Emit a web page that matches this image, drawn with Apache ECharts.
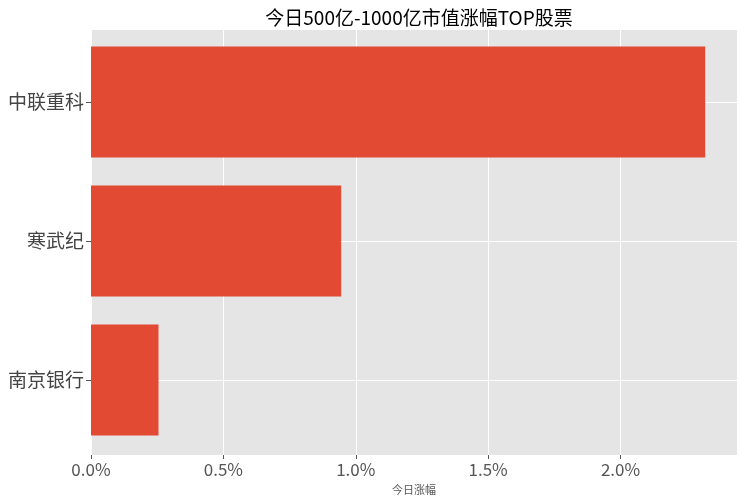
<!DOCTYPE html>
<html>
<head>
<meta charset="utf-8">
<script src="https://cdn.jsdelivr.net/npm/echarts@6/dist/echarts.min.js"></script>
<style>
html,body{margin:0;padding:0;background:#fff;}
#chart{width:744px;height:500px;}
</style>
</head>
<body>
<div id="chart"></div>
<script>
// 股票名称（自上而下）
var stockNames = ['中联重科', '寒武纪', '南京银行'];
// 今日涨幅 (%)
var stockChange = [2.32, 0.945, 0.255];
// x轴范围
var xMax = 2.44;

var chart = echarts.init(document.getElementById('chart'));
var fontCJK = '"Noto Sans CJK SC", "Noto Sans", sans-serif';

var option = {
	animation: false,
	title: {
		text: '今日500亿-1000亿市值涨幅TOP股票',
		left: 414,
		textAlign: 'center',
		top: 3,
		textStyle: {color: '#000', fontSize: 19, fontWeight: 'normal', fontFamily: fontCJK}
	},
	grid: [
		//背景和x轴
		{left: 91, right: 7, top: 30, bottom: 42, show: true, backgroundColor: '#E5E5E5', borderWidth: 0},
		//柱子和y轴
		{left: 91, right: 7, top: 102, bottom: 120}
	],
	xAxis: [{
		gridIndex: 0,
		type: 'value',
		min: 0,
		max: xMax,
		interval: 0.5,
		name: '今日涨幅',
		nameLocation: 'middle',
		nameGap: 29,
		nameTextStyle: {color: '#555', fontSize: 11, fontFamily: fontCJK},
		axisLine: {show: false},
		axisTick: {show: true, length: 4, lineStyle: {color: '#555'}},
		axisLabel: {
			color: '#555', fontSize: 17, fontFamily: fontCJK, margin: 6,
			showMaxLabel: false,
			formatter: function (v) { return v.toFixed(1) + '%'; }
		},
		splitLine: {show: true, lineStyle: {color: '#fff', width: 1}}
	}, {
		gridIndex: 1,
		type: 'value',
		min: 0,
		max: xMax,
		show: false,
		splitLine: {show: false}
	}],
	yAxis: [{
		gridIndex: 0,
		type: 'value',
		show: false,
		splitLine: {show: false}
	}, {
		gridIndex: 1,
		type: 'category',
		inverse: true,
		boundaryGap: false,
		data: stockNames,
		axisLine: {show: false},
		axisTick: {show: true, length: 5, lineStyle: {color: '#555'}},
		axisLabel: {color: '#444', fontSize: 19, fontFamily: fontCJK, margin: 7},
		splitLine: {show: true, lineStyle: {color: '#fff', width: 1}}
	}],
	series: [{
		type: 'bar',
		xAxisIndex: 1,
		yAxisIndex: 1,
		clip: false,
		barWidth: '80%',
		itemStyle: {color: '#E24A33'},
		data: stockChange
	}]
};

chart.setOption(option);
</script>
</body>
</html>
